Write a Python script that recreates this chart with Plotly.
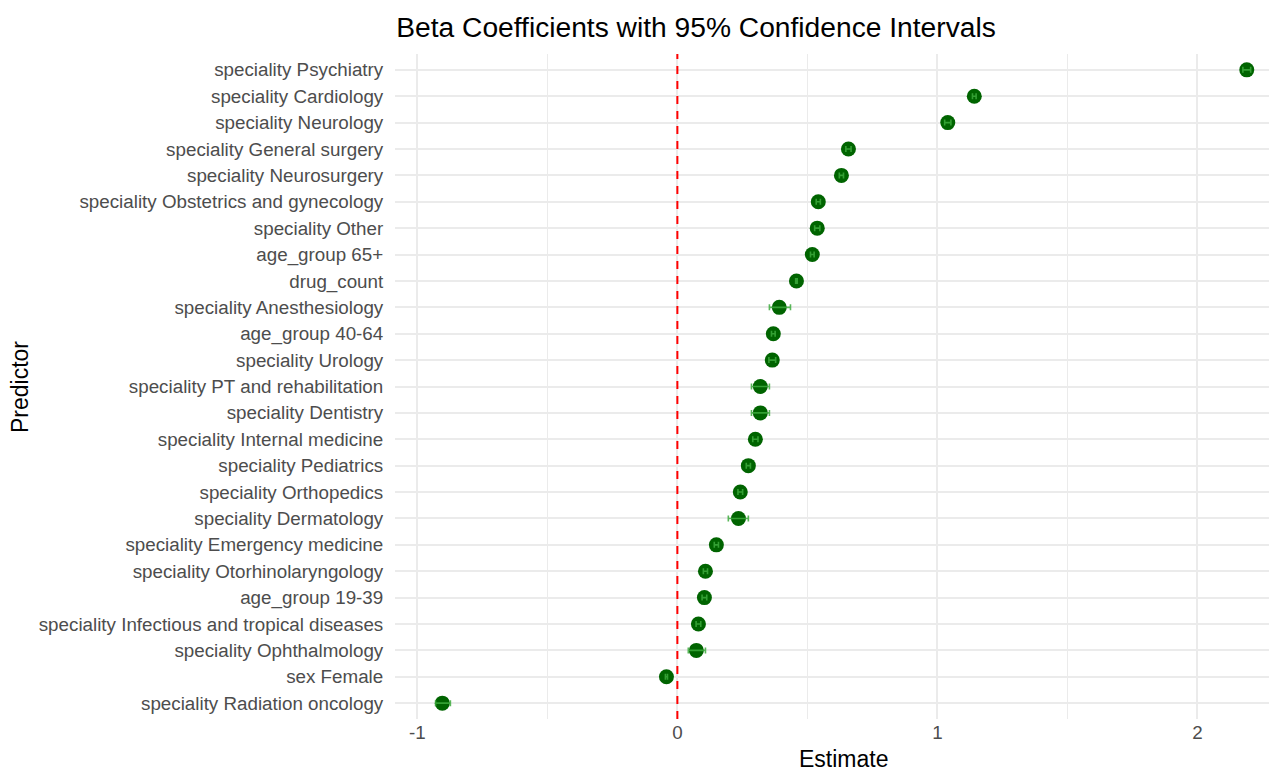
import plotly.graph_objects as go

predictors = [
    "speciality Psychiatry", "speciality Cardiology", "speciality Neurology",
    "speciality General surgery", "speciality Neurosurgery",
    "speciality Obstetrics and gynecology", "speciality Other", "age_group 65+",
    "drug_count", "speciality Anesthesiology", "age_group 40-64",
    "speciality Urology", "speciality PT and rehabilitation", "speciality Dentistry",
    "speciality Internal medicine", "speciality Pediatrics", "speciality Orthopedics",
    "speciality Dermatology", "speciality Emergency medicine",
    "speciality Otorhinolaryngology", "age_group 19-39",
    "speciality Infectious and tropical diseases", "speciality Ophthalmology",
    "sex Female", "speciality Radiation oncology",
]
estimate = [2.19, 1.142, 1.04, 0.658, 0.631, 0.542, 0.538, 0.519, 0.458, 0.392,
            0.369, 0.365, 0.319, 0.319, 0.300, 0.273, 0.242, 0.235, 0.150,
            0.108, 0.104, 0.081, 0.073, -0.042, -0.904]
ci_lower = [2.175, 1.135, 1.028, 0.648, 0.623, 0.534, 0.528, 0.512, 0.455, 0.354,
            0.362, 0.352, 0.285, 0.285, 0.290, 0.265, 0.233, 0.196, 0.142,
            0.100, 0.095, 0.072, 0.042, -0.046, -0.930]
ci_upper = [2.205, 1.149, 1.052, 0.668, 0.639, 0.550, 0.548, 0.526, 0.461, 0.435,
            0.376, 0.378, 0.354, 0.354, 0.310, 0.281, 0.251, 0.273, 0.158,
            0.116, 0.113, 0.090, 0.108, -0.038, -0.873]

err_plus = [u - e for u, e in zip(ci_upper, estimate)]
err_minus = [e - l for e, l in zip(estimate, ci_lower)]

W, H = 1277, 770
L, R, T, B = 387, 0, 46, 59

fig = go.Figure()
fig.add_trace(go.Scatter(
    x=estimate, y=predictors, mode="markers",
    marker=dict(color="#006400", size=15, line=dict(width=0)),
    showlegend=False,
))
fig.add_trace(go.Scatter(
    x=estimate, y=predictors, mode="markers",
    marker=dict(color="rgba(0,0,0,0)", size=1),
    error_x=dict(type="data", array=err_plus, arrayminus=err_minus,
                 color="rgba(60,170,60,0.85)", thickness=1.6, width=3),
    showlegend=False,
))
fig.add_vline(x=0, line=dict(color="red", dash="8px,7px", width=2))

fig.update_layout(
    width=W, height=H,
    paper_bgcolor="white", plot_bgcolor="white",
    margin=dict(l=L, r=R, t=T, b=B, autoexpand=False),
    font=dict(family="Liberation Sans, Arial, sans-serif", color="#4d4d4d", size=18.8),
    title=dict(text="Beta Coefficients with 95% Confidence Intervals",
               font=dict(size=28.2, color="black"),
               xref="container", x=688 / W, xanchor="center",
               yref="container", y=1 - 19 / H, yanchor="middle"),
    annotations=[
        dict(text="Estimate", xref="paper", yref="paper",
             x=(835 - L) / (W - L - R), y=-(751 - (H - B)) / (H - T - B),
             xanchor="center", yanchor="middle", showarrow=False,
             font=dict(size=23, color="black")),
        dict(text="Predictor", xref="paper", yref="paper",
             x=-(L - 12) / (W - L - R), y=(H - B - 379) / (H - T - B),
             xanchor="center", yanchor="middle", showarrow=False, textangle=-90,
             font=dict(size=23, color="black")),
    ],
)
fig.update_xaxes(
    range=[-1.086, 2.337], tickvals=[-1, 0, 1, 2], ticktext=["-1", "0", "1", "2"],
    showgrid=True, gridcolor="#ebebeb", gridwidth=1.5,
    minor=dict(tickvals=[-0.5, 0.5, 1.5], showgrid=True, gridcolor="#ebebeb", gridwidth=0.8),
    zeroline=False, showline=False, ticks="",
    automargin=False,
    tickfont=dict(size=18.8, color="#4d4d4d"),
)
fig.update_yaxes(
    categoryorder="array", categoryarray=predictors[::-1],
    range=[-0.6, len(predictors) - 0.4],
    showgrid=True, gridcolor="#ebebeb", gridwidth=1.5,
    zeroline=False, showline=False, ticks="outside", ticklen=7, tickcolor="rgba(0,0,0,0)",
    automargin=False,
    tickfont=dict(size=18.8, color="#4d4d4d"),
)

fig.write_html("out.html")
